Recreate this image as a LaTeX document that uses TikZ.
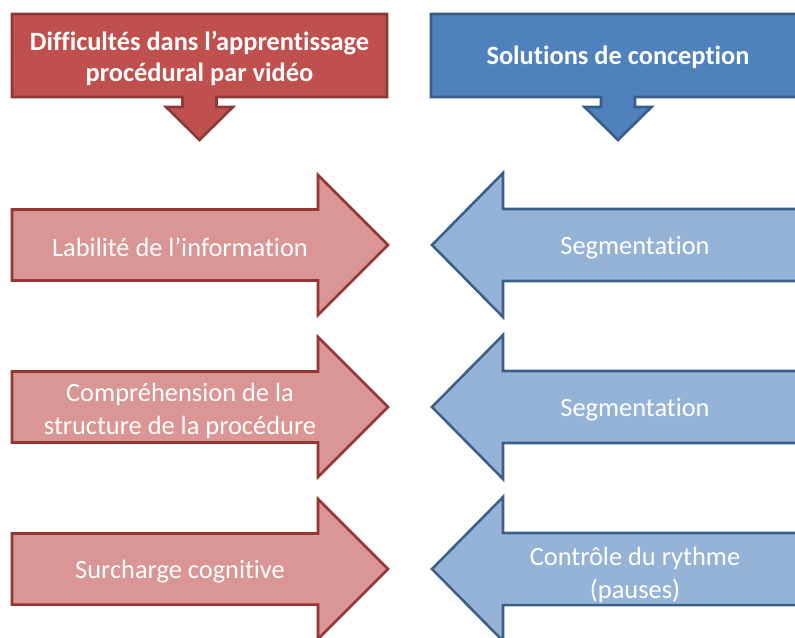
\documentclass[tikz,border=0pt]{standalone}
\usepackage{fontspec}
\setmainfont{Carlito}[Ligatures=NoCommon]
\definecolor{rdfill}{HTML}{C0504D}
\definecolor{rdline}{HTML}{8C3A37}
\definecolor{rlfill}{HTML}{D99694}
\definecolor{rlline}{HTML}{943634}
\definecolor{bdfill}{HTML}{4F81BD}
\definecolor{bdline}{HTML}{385D8A}
\definecolor{blfill}{HTML}{95B3D7}
\definecolor{blline}{HTML}{3A5F8B}
\tikzset{
  redtitle/.style={fill=rdfill,draw=rdline,line width=1.9pt,line join=miter},
  bluetitle/.style={fill=bdfill,draw=bdline,line width=1.9pt,line join=miter},
  redarrow/.style={fill=rlfill,draw=rlline,line width=1.9pt,line join=miter},
  bluearrow/.style={fill=blfill,draw=blline,line width=1.9pt,line join=miter},
  titletext/.style={text=white,font=\fontsize{19.8}{23}\selectfont\bfseries,align=center,inner sep=0pt},
  boxtext/.style={text=white,font=\fontsize{19.8}{24.5}\selectfont,align=center,inner sep=0pt},
}
\begin{document}
\begin{tikzpicture}[x=0.75pt,y=-0.75pt]
\useasboundingbox (0,0) rectangle (795,637);
\clip (0,0) rectangle (795,637);
% title callouts
\draw[redtitle] (12,14) -- (387,14) -- (387,97) -- (216.5,97) -- (216.5,107) -- (233,107)
  -- (199.5,140) -- (166,107) -- (182.5,107) -- (182.5,97) -- (12,97) -- cycle;
\draw[bluetitle] (431,14) -- (806,14) -- (806,97) -- (635,97) -- (635,107) -- (651.5,107)
  -- (618,140) -- (584.5,107) -- (601,107) -- (601,97) -- (431,97) -- cycle;
\node[titletext] (t1) at (199.5,58.5) {Difficultés dans l’apprentissage\\procédural par vidéo};
\node[titletext] (t2) at (618,57) {Solutions de conception};
% red arrows
\foreach \c in {245,407,569}{
  \draw[redarrow] (12,\c-35.5) -- (318,\c-35.5) -- (318,\c-70) -- (388,\c) -- (318,\c+70)
    -- (318,\c+35.5) -- (12,\c+35.5) -- cycle;
  \draw[bluearrow] (806,\c-36) -- (503,\c-36) -- (503,\c-72) -- (432,\c) -- (503,\c+72)
    -- (503,\c+36) -- (806,\c+36) -- cycle;
}
\node[boxtext] (r1) at (180,247) {Labilité de l’information};
\node[boxtext] (r2) at (180,411) {Compréhension de la\\structure de la procédure};
\node[boxtext] (r3) at (180,571.5) {Surcharge cognitive};
\node[boxtext] (b1) at (635,247.5) {Segmentation};
\node[boxtext] (b2) at (635,409.5) {Segmentation};
\node[boxtext] (b3) at (635,575) {Contrôle du rythme\\(pauses)};
\end{tikzpicture}
\end{document}
